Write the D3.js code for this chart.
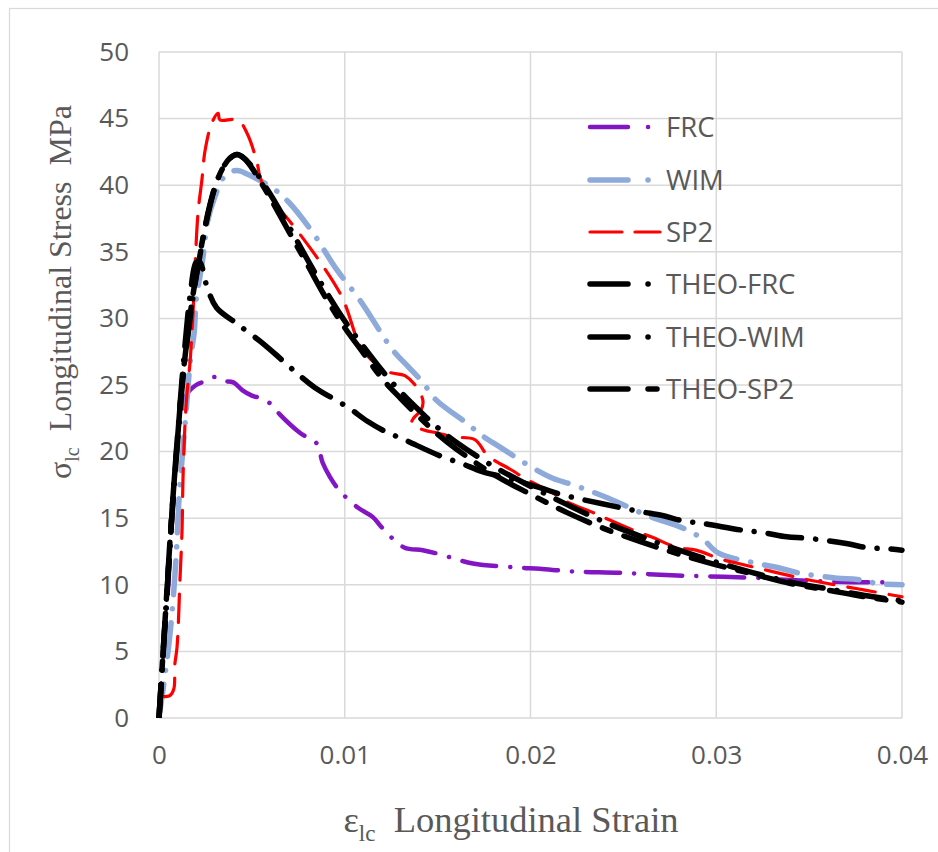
<!DOCTYPE html>
<html>
<head>
<meta charset="utf-8">
<script src="https://cdn.jsdelivr.net/npm/d3@7"></script>
<style>
  body { margin: 0; background: #fff; }
  svg text { fill: #595959; }
  .tick text { font-family: "Open Sans", sans-serif; font-size: 26px; }
  .title { font-family: "Liberation Serif", "Times New Roman", serif; white-space: pre; }
  .legend text { font-family: "Open Sans", sans-serif; font-size: 27.5px; }
</style>
</head>
<body>
<div id="chart"></div>
<script>
// ---- data ----
const xTicks = [0, 0.01, 0.02, 0.03, 0.04];
const yTicks = [0, 5, 10, 15, 20, 25, 30, 35, 40, 45, 50];

const frcStrain = [0, 0.0002, 0.0005, 0.0008, 0.0011, 0.0015, 0.002, 0.0025, 0.003, 0.0035, 0.004, 0.0045, 0.005, 0.0055, 0.006, 0.0065, 0.0076, 0.0085, 0.0088, 0.0092, 0.0097, 0.0107, 0.0115, 0.012, 0.0132, 0.0142, 0.0151, 0.0169, 0.0193, 0.0205, 0.0223, 0.0248, 0.0279, 0.0304, 0.0324, 0.0334, 0.0374, 0.0391];
const frcStress = [0, 4, 10, 17, 22, 24.3, 25, 25.3, 25.6, 25.3, 25.2, 24.6, 24.2, 24, 23.6, 22.8, 21.4, 20.6, 19.2, 18.1, 17.1, 15.8, 15.1, 14.3, 12.8, 12.6, 12.3, 11.6, 11.3, 11.2, 11.0, 10.9, 10.7, 10.6, 10.5, 10.4, 10.2, 10.2];

const wimStrain = [0, 0.0003, 0.0006, 0.0009, 0.0011, 0.0014, 0.0017, 0.0019, 0.002, 0.0022, 0.0024, 0.0026, 0.003, 0.0036, 0.0042, 0.0048, 0.0061, 0.007, 0.0083, 0.0089, 0.0096, 0.0108, 0.0126, 0.0134, 0.0142, 0.0149, 0.0166, 0.0174, 0.0184, 0.0201, 0.0212, 0.0223, 0.0242, 0.0263, 0.0283, 0.0293, 0.0301, 0.0322, 0.0333, 0.0344, 0.0365, 0.0376, 0.0387, 0.04];
const wimStress = [0, 3, 6.4, 11.6, 16.9, 22, 27, 29, 31.4, 33.1, 34.9, 37.2, 39.1, 40.8, 41.1, 40.8, 39.8, 38.7, 36.4, 35.1, 33.6, 31.4, 27.6, 26.4, 25.2, 23.9, 22.1, 21.2, 20.3, 18.8, 18, 17.5, 16.5, 15.2, 14.2, 13.4, 12.4, 11.6, 11.3, 10.9, 10.5, 10.4, 10.1, 10.0];

const sp2Strain = [0.0001, 0.0006, 0.0008, 0.00085, 0.00097, 0.00113, 0.00124, 0.00129, 0.0014, 0.00151, 0.00167, 0.00183, 0.0021, 0.00231, 0.00248, 0.00285, 0.00318, 0.00328, 0.00425, 0.00474, 0.00528, 0.00544, 0.00608, 0.00668, 0.00974, 0.01098, 0.01233, 0.01324, 0.01389, 0.01421, 0.0141, 0.0137, 0.0136, 0.0143, 0.015, 0.0158, 0.017, 0.0177, 0.019, 0.0198, 0.0212, 0.022, 0.0234, 0.0242, 0.0257, 0.0265, 0.0279, 0.0289, 0.0303, 0.0312, 0.0327, 0.0336, 0.0352, 0.036, 0.0376, 0.0384, 0.04];
const sp2Stress = [1.6, 1.7, 2.2, 4, 5.3, 10.4, 14.1, 17.9, 22.1, 24.4, 26.7, 30.4, 37.9, 40.4, 42.6, 44.7, 45.4, 44.9, 44.9, 43.9, 41.7, 40.6, 38.7, 37.9, 31.9, 27.6, 26, 25.7, 24.8, 23.8, 23.1, 22.5, 22.1, 21.6, 21.4, 21.1, 20.9, 19.7, 18.6, 17.9, 16.9, 16.2, 15.4, 14.9, 14.0, 13.6, 12.8, 12.6, 11.9, 11.6, 11.1, 10.8, 10.3, 10.1, 9.7, 9.5, 9.1];

const theoFrcStrain = [0, 0.0002, 0.0005, 0.0008, 0.0011, 0.0014, 0.0017, 0.002, 0.0022, 0.0026, 0.0031, 0.0042, 0.0057, 0.0066, 0.0075, 0.0084, 0.0102, 0.0112, 0.0122, 0.0132, 0.0151, 0.0163, 0.0174, 0.0185, 0.0205, 0.0216, 0.0228, 0.0238, 0.0259, 0.0271, 0.0282, 0.0293, 0.0314, 0.0326, 0.0338, 0.0349, 0.037, 0.0381, 0.0393, 0.04];
const theoFrcStress = [0, 4.5, 11, 17.5, 23, 28, 32, 34.2, 34.2, 32.3, 30.8, 29.6, 28.0, 26.9, 25.8, 24.8, 23.3, 22.3, 21.5, 20.9, 19.7, 19.1, 18.5, 18.1, 17.3, 16.8, 16.4, 16.1, 15.5, 15.2, 14.8, 14.6, 14.1, 13.9, 13.6, 13.5, 13.1, 12.8, 12.7, 12.6];

const theoWimStrain = [0, 0.0002, 0.0004, 0.0006, 0.0008, 0.001, 0.0012, 0.0015, 0.0018, 0.0021, 0.0024, 0.0027, 0.003, 0.0034, 0.0038, 0.0042, 0.0046, 0.005, 0.006, 0.007, 0.008, 0.009, 0.01, 0.011, 0.012, 0.013, 0.014, 0.015, 0.016, 0.018, 0.02, 0.022, 0.024, 0.026, 0.028, 0.03, 0.032, 0.034, 0.036, 0.038, 0.04];
const theoWimStress = [0, 4.3, 8.7, 13.2, 17.2, 20.7, 24.2, 28.1, 31.3, 33.9, 36.2, 38.2, 39.8, 41.2, 42.0, 42.3, 42.0, 41.4, 39.3, 36.9, 34.4, 32.0, 29.8, 27.9, 26.1, 24.5, 23.1, 21.8, 20.7, 18.9, 17.4, 16.0, 14.7, 13.6, 12.6, 11.7, 10.9, 10.2, 9.7, 9.2, 8.8];

const theoSp2Strain = [0, 0.0002, 0.0004, 0.0006, 0.0008, 0.001, 0.0012, 0.0015, 0.0018, 0.0021, 0.0024, 0.0027, 0.003, 0.0034, 0.0038, 0.0042, 0.0046, 0.005, 0.006, 0.007, 0.008, 0.009, 0.01, 0.011, 0.012, 0.013, 0.014, 0.015, 0.016, 0.018, 0.02, 0.022, 0.024, 0.026, 0.028, 0.03, 0.032, 0.034, 0.036, 0.038, 0.04];
const theoSp2Stress = [0, 4.5, 9, 13.5, 17.5, 21, 24.5, 28.3, 31.5, 34, 36.3, 38.3, 39.8, 41.2, 42.0, 42.3, 42.0, 41.3, 39.0, 36.5, 34.0, 31.5, 29.3, 27.4, 25.5, 24.0, 22.6, 21.3, 20.2, 18.3, 16.8, 15.4, 14.2, 13.2, 12.3, 11.5, 10.8, 10.1, 9.6, 9.1, 8.7];

const seriesNames = ['FRC', 'WIM', 'SP2', 'THEO-FRC', 'THEO-WIM', 'THEO-SP2'];

// ---- styles ----
const styles = {
  'FRC':      { color: '#8315c4', width: 4.5, dash: '34,14,0.1,14', legendDash: '38,20,0.1,20' },
  'WIM':      { color: '#8eaadb', width: 5.5, dash: '34,14,0.1,14', legendDash: '38,20,0.1,20' },
  'SP2':      { color: '#ff0000', width: 3.2, dash: '28,14', legendDash: '32,13' },
  'THEO-FRC': { color: '#000000', width: 5.5, dash: '34,14,0.1,14', legendDash: '38,20,0.1,20' },
  'THEO-WIM': { color: '#000000', width: 5.5, dash: '34,14,0.1,14', legendDash: '38,20,0.1,20' },
  'THEO-SP2': { color: '#000000', width: 5.5, dash: '34,14,9,14', legendDash: '38,20,9,20' }
};

const series = [
  { name: 'FRC', xs: frcStrain, ys: frcStress },
  { name: 'WIM', xs: wimStrain, ys: wimStress },
  { name: 'SP2', xs: sp2Strain, ys: sp2Stress },
  { name: 'THEO-FRC', xs: theoFrcStrain, ys: theoFrcStress },
  { name: 'THEO-WIM', xs: theoWimStrain, ys: theoWimStress },
  { name: 'THEO-SP2', xs: theoSp2Strain, ys: theoSp2Stress }
].map(s => ({ name: s.name, points: s.xs.map((x, i) => ({ x: x, y: s.ys[i] })) }));

const width = 938, height = 852;
const plot = { left: 159, right: 902, top: 52, bottom: 718 };

const svg = d3.select('#chart').append('svg')
  .attr('width', width)
  .attr('height', height);

// outer chart border
svg.append('rect')
  .attr('x', 9.5).attr('y', 8.5)
  .attr('width', 940).attr('height', 850)
  .attr('fill', 'none').attr('stroke', '#d9d9d9').attr('stroke-width', 1.2);

const x = d3.scaleLinear().domain([0, 0.04]).range([plot.left, plot.right]);
const y = d3.scaleLinear().domain([0, 50]).range([plot.bottom, plot.top]);

// gridlines
svg.append('g').selectAll('line.v')
  .data(xTicks).enter().append('line')
  .attr('x1', d => x(d)).attr('x2', d => x(d))
  .attr('y1', plot.top).attr('y2', plot.bottom)
  .attr('stroke', '#d9d9d9').attr('stroke-width', 1.5);

svg.append('g').selectAll('line.h')
  .data(yTicks).enter().append('line')
  .attr('x1', plot.left).attr('x2', plot.right)
  .attr('y1', d => y(d)).attr('y2', d => y(d))
  .attr('stroke', '#d9d9d9').attr('stroke-width', 1.5);

// axes (labels only)
const xAxis = svg.append('g')
  .attr('transform', `translate(0, ${plot.bottom})`)
  .call(d3.axisBottom(x).tickValues(xTicks).tickSize(0).tickPadding(28)
    .tickFormat(d => d === 0 ? '0' : d3.format('.2f')(d)));
xAxis.select('.domain').remove();

const yAxis = svg.append('g')
  .attr('transform', `translate(${plot.left}, 0)`)
  .call(d3.axisLeft(y).tickValues(yTicks).tickSize(0).tickPadding(30));
yAxis.select('.domain').remove();

// clip for data lines
svg.append('clipPath').attr('id', 'clip')
  .append('rect')
  .attr('x', plot.left - 3).attr('y', plot.top - 3)
  .attr('width', plot.right - plot.left + 6)
  .attr('height', plot.bottom - plot.top + 3);

const line = d3.line()
  .x(d => x(d.x))
  .y(d => y(d.y))
  .curve(d3.curveCatmullRom.alpha(0.5));

svg.append('g').attr('clip-path', 'url(#clip)')
  .selectAll('path')
  .data(series).enter().append('path')
  .attr('d', d => line(d.points))
  .attr('fill', 'none')
  .attr('stroke', d => styles[d.name].color)
  .attr('stroke-width', d => styles[d.name].width)
  .attr('stroke-dasharray', d => styles[d.name].dash)
  .attr('stroke-linecap', 'round')
  .attr('stroke-linejoin', 'round');

// legend
const legendY = [127, 180, 232, 284, 337, 389];
const legend = svg.append('g').attr('class', 'legend');
seriesNames.forEach((name, i) => {
  const st = styles[name];
  legend.append('line')
    .attr('x1', 590).attr('x2', 660)
    .attr('y1', legendY[i]).attr('y2', legendY[i])
    .attr('stroke', st.color)
    .attr('stroke-width', st.width)
    .attr('stroke-dasharray', st.legendDash)
    .attr('stroke-linecap', 'round');
  legend.append('text')
    .attr('x', 666).attr('y', legendY[i])
    .attr('dy', '0.36em')
    .text(name);
});

// axis titles
const xt = svg.append('text').attr('class', 'title')
  .attr('font-size', 36.5)
  .attr('x', 511).attr('y', 832)
  .attr('text-anchor', 'middle');
xt.append('tspan').text('ε');
xt.append('tspan').attr('dy', 9).attr('font-size', 23).text('lc');
xt.append('tspan').attr('dy', -9).text('  Longitudinal Strain');

const yt = svg.append('text').attr('class', 'title')
  .attr('font-size', 32)
  .attr('transform', 'translate(71, 292) rotate(-90)')
  .attr('text-anchor', 'middle');
yt.append('tspan').text('σ');
yt.append('tspan').attr('dy', 8).attr('font-size', 20).text('lc');
yt.append('tspan').attr('dy', -8).text('  Longitudinal Stress  MPa');
</script>
</body>
</html>
